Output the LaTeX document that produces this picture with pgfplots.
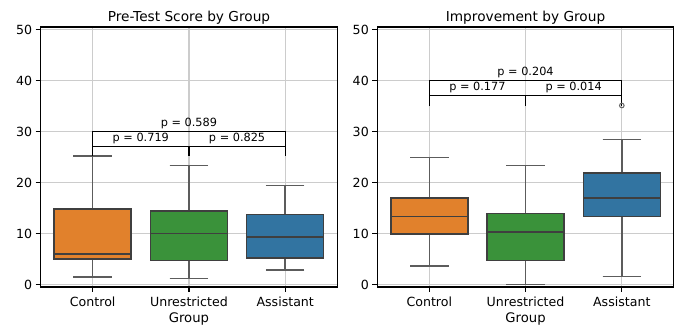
\documentclass[border=0pt]{standalone}
\usepackage{pgfplots}
\pgfplotsset{compat=1.18}
\usepgfplotslibrary{statistics}
\usepackage{fontspec}
\setmainfont{DejaVu Sans}
\definecolor{sorange}{HTML}{E1812C}
\definecolor{sgreen}{HTML}{3A923A}
\definecolor{sblue}{HTML}{3274A1}
\definecolor{edge}{HTML}{3F3F3F}
\definecolor{gridc}{HTML}{CCCCCC}
\pgfplotsset{
  myax/.style={
    scale only axis, width=296.5pt, height=260pt,
    xmin=-0.54, xmax=2.54, ymin=-0.5, ymax=50.5,
    xtick={0,1,2}, xticklabels={Control,Unrestricted,Assistant},
    ytick={0,10,20,30,40,50},
    tick pos=left, tick align=outside,
    major tick length=5pt,
    every tick/.style={black, line width=1.1pt},
    axis line style={black, line width=1.2pt},
    grid=major, major grid style={gridc, line width=1.1pt},
    /pgf/number format/assume math mode=true,
    tick label style={font=\fontsize{12.6}{14}\selectfont},
    xticklabel style={yshift=-1pt},
    xlabel={Group},
    xlabel style={font=\fontsize{13.2}{15}\selectfont, yshift=0pt},
    title style={font=\fontsize{13.7}{15}\selectfont, yshift=-7pt},
    boxplot/draw direction=y,
    boxplot/box extend=0.8, boxplot/whisker extend=0.4,
    boxplot/every box/.style={draw=edge, line width=1.45pt},
    boxplot/every median/.style={draw=edge, line width=1.45pt},
    boxplot/every whisker/.style={draw=edge!85, line width=1.45pt},
    clip=false,
  },
  bk/.style={black, line width=1.35pt, mark=none},
}
\tikzset{pl/.style={font=\fontsize{11.3}{13}\selectfont, above, inner sep=0pt, yshift=2.5pt}}
\begin{document}
\begin{tikzpicture}[x=1pt,y=1pt]
\path[use as bounding box] (0,0) rectangle (681,329);
\begin{axis}[myax, at={(40.7pt,42pt)}, anchor=south west, title={Pre-Test Score by Group}]
\addplot+[boxplot prepared={draw position=0, lower whisker=1.5, lower quartile=5.0, median=6.0, upper quartile=14.8, upper whisker=25.2}, fill=sorange, draw=edge, mark=none] coordinates {};
\addplot+[boxplot prepared={draw position=1, lower whisker=1.2, lower quartile=4.7, median=10.0, upper quartile=14.4, upper whisker=23.3}, fill=sgreen, draw=edge, mark=none] coordinates {};
\addplot+[boxplot prepared={draw position=2, lower whisker=2.8, lower quartile=5.2, median=9.35, upper quartile=13.7, upper whisker=19.4}, fill=sblue, draw=edge, mark=none] coordinates {};
\addplot[bk] coordinates {(0,25.2) (0,27.1) (1,27.1) (1,25.2)};
\addplot[bk] coordinates {(1,25.2) (1,27.1) (2,27.1) (2,25.2)};
\addplot[bk] coordinates {(0,27.1) (0,30.05) (2,30.05) (2,27.1)};
\node[pl] at (axis cs:0.5,27.1) {p = 0.719};
\node[pl] at (axis cs:1.5,27.1) {p = 0.825};
\node[pl] at (axis cs:1,30.05) {p = 0.589};
\end{axis}
\begin{axis}[myax, at={(377.3pt,42pt)}, anchor=south west, title={Improvement by Group}]
\addplot+[boxplot prepared={draw position=0, lower whisker=3.6, lower quartile=9.9, median=13.3, upper quartile=17.0, upper whisker=24.9}, fill=sorange, draw=edge, mark=none] coordinates {};
\addplot+[boxplot prepared={draw position=1, lower whisker=0.0, lower quartile=4.7, median=10.3, upper quartile=13.9, upper whisker=23.3}, fill=sgreen, draw=edge, mark=none] coordinates {};
\addplot+[boxplot prepared={draw position=2, lower whisker=1.6, lower quartile=13.3, median=17.0, upper quartile=21.9, upper whisker=28.4}, fill=sblue, draw=edge, mark=o, mark size=2.3pt, mark options={draw=edge!80, fill=none, line width=1pt}] coordinates {(2,35.1)};
\addplot[bk] coordinates {(0,35.0) (0,37.1) (1,37.1) (1,35.0)};
\addplot[bk] coordinates {(1,35.0) (1,37.1) (2,37.1) (2,35.0)};
\addplot[bk] coordinates {(0,37.1) (0,40.05) (2,40.05) (2,37.1)};
\node[pl] at (axis cs:0.5,37.1) {p = 0.177};
\node[pl] at (axis cs:1.5,37.1) {p = 0.014};
\node[pl] at (axis cs:1,40.05) {p = 0.204};
\end{axis}
\end{tikzpicture}
\end{document}
